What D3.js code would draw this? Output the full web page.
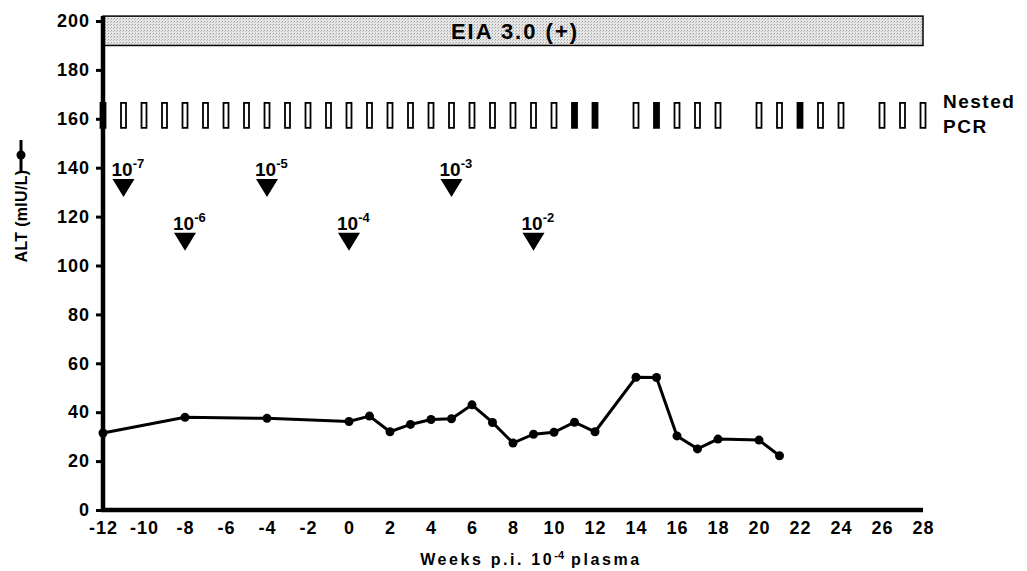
<!DOCTYPE html>
<html>
<head>
<meta charset="utf-8">
<script src="https://cdn.jsdelivr.net/npm/d3@7"></script>
<style>
	body{ margin:0; background:#fff; }
	svg text{ font-family:"Liberation Sans", Arial, sans-serif; font-weight:bold; fill:#000; }
</style>
</head>
<body>
<svg id="svg" width="1027" height="571"></svg>
<script>
// ALT values (mIU/L) by week p.i.
var weeks = [-12, -8, -4, 0, 1, 2, 3, 4, 5, 6, 7, 8, 9, 10, 11, 12, 14, 15, 16, 17, 18, 20, 21];
var alt = [31.5, 37.9, 37.5, 36.2, 38.4, 32, 35, 37, 37.3, 43, 35.8, 27.4, 31, 31.8, 35.9, 32, 54.3, 54.2, 30.3, 25, 29, 28.6, 22.2];

// inoculation arrows
var doseWeeks = [-11, -8, -4, 0, 5, 9];
var doseExp = ["-7", "-6", "-5", "-4", "-3", "-2"];
var doseLevel = [128, 106, 128, 106, 128, 106];

// nested PCR samples (1 = positive)
var pcrWeeks = [-12, -11, -10, -9, -8, -7, -6, -5, -4, -3, -2, -1, 0, 1, 2, 3, 4, 5, 6, 7, 8, 9, 10, 11, 12, 14, 15, 16, 17, 18, 20, 21, 22, 23, 24, 26, 27, 28];
var pcrResult = [0, 0, 0, 0, 0, 0, 0, 0, 0, 0, 0, 0, 0, 0, 0, 0, 0, 0, 0, 0, 0, 0, 0, 1, 1, 0, 1, 0, 0, 0, 0, 0, 1, 0, 0, 0, 0, 0];

// EIA 3.0 positive band
var eiaRange = [-12, 28];
var eiaLevel = [190, 202];

var xTicks = d3.range(-12, 29, 2);
var yTicks = d3.range(0, 201, 20);

var svg = d3.select("#svg");
var x = d3.scaleLinear().domain([-12, 28]).range([103, 923]);
var y = d3.scaleLinear().domain([0, 200]).range([510, 21]);

// stipple pattern for the EIA band
var pat = svg.append("defs").append("pattern").attr("id", "stip").attr("patternUnits", "userSpaceOnUse").attr("width", 3).attr("height", 3);
pat.append("rect").attr("width", 3).attr("height", 3).attr("fill", "#e6e6e6");
pat.append("rect").attr("x", 0).attr("y", 0).attr("width", 1).attr("height", 1).attr("fill", "#a0a0a0");
pat.append("rect").attr("x", 2).attr("y", 1).attr("width", 1).attr("height", 1).attr("fill", "#bdbdbd");

svg.append("rect")
	.attr("x", x(eiaRange[0])).attr("y", y(eiaLevel[1]))
	.attr("width", x(eiaRange[1]) - x(eiaRange[0]))
	.attr("height", y(eiaLevel[0]) - y(eiaLevel[1]))
	.attr("fill", "url(#stip)").attr("stroke", "#000").attr("stroke-width", 1.5);
svg.append("text")
	.attr("x", (x(eiaRange[0]) + x(eiaRange[1])) / 2 + 2).attr("y", y(eiaLevel[0]) - 6)
	.attr("text-anchor", "middle").style("font-size", "22px").style("letter-spacing", "2px")
	.text("EIA 3.0 (+)");

// PCR boxes
svg.append("g").selectAll("rect").data(pcrWeeks).enter().append("rect")
	.attr("x", function(d){ return x(d) - 2.5; })
	.attr("y", y(166.5))
	.attr("width", 5)
	.attr("height", y(156.3) - y(166.5))
	.attr("fill", function(d, i){ return pcrResult[i] ? "#000" : "#fff"; })
	.attr("stroke", "#000").attr("stroke-width", 1.8);

svg.append("text").attr("x", 943).attr("y", 108).style("font-size", "19px").style("letter-spacing", "1.5px").text("Nested");
svg.append("text").attr("x", 943).attr("y", 133).style("font-size", "19px").style("letter-spacing", "1.5px").text("PCR");

// dose arrows
var dose = svg.append("g").selectAll("g").data(doseWeeks).enter().append("g");
dose.append("path")
	.attr("d", function(d, i){
		var cx = x(d), tip = y(doseLevel[i]);
		return "M" + (cx - 11) + "," + (tip - 18) + "L" + (cx + 11) + "," + (tip - 18) + "L" + cx + "," + tip + "Z";
	})
	.attr("fill", "#000");
var lab = dose.append("text")
	.attr("x", function(d){ return x(d) - 12; })
	.attr("y", function(d, i){ return y(doseLevel[i]) - 21; })
	.style("font-size", "19px");
lab.append("tspan").text("10");
lab.append("tspan").attr("dy", -8).style("font-size", "13px").text(function(d, i){ return doseExp[i]; });

// axes
var fmt = function(d){ return String(d); };
var yAxis = svg.append("g").attr("transform", "translate(103,0)")
	.call(d3.axisLeft(y).tickValues(yTicks).tickFormat(fmt).tickSize(7).tickPadding(6));
yAxis.select(".domain").remove();
yAxis.selectAll(".tick line").attr("stroke-width", 3);
yAxis.selectAll("text").style("font-size", "18px").style("letter-spacing", "1px").attr("font-family", null);

var xAxis = svg.append("g").attr("transform", "translate(0,510)")
	.call(d3.axisBottom(x).tickValues(xTicks).tickFormat(fmt).tickSize(0).tickPadding(11));
xAxis.select(".domain").remove();
xAxis.selectAll("text").style("font-size", "18px").style("letter-spacing", "1px").attr("font-family", null);

svg.append("line").attr("x1", 103).attr("x2", 103).attr("y1", y(202)).attr("y2", 512).attr("stroke", "#000").attr("stroke-width", 4.5);
svg.append("line").attr("x1", 101).attr("x2", x(28)).attr("y1", 510).attr("y2", 510).attr("stroke", "#000").attr("stroke-width", 4.5);

// ALT series
var line = d3.line().x(function(d){ return x(d); }).y(function(d, i){ return y(alt[i]); });
svg.append("path").datum(weeks).attr("d", line).attr("fill", "none").attr("stroke", "#000").attr("stroke-width", 3);
svg.append("g").selectAll("circle").data(weeks).enter().append("circle")
	.attr("cx", function(d){ return x(d); })
	.attr("cy", function(d, i){ return y(alt[i]); })
	.attr("r", 4.5).attr("fill", "#000");

// axis titles
svg.append("text").attr("transform", "translate(27,216) rotate(-90)")
	.attr("text-anchor", "middle").style("font-size", "16px").style("letter-spacing", "0.3px")
	.text("ALT (mIU/L)");
svg.append("line").attr("x1", 21).attr("x2", 21).attr("y1", 140).attr("y2", 173).attr("stroke", "#000").attr("stroke-width", 3);
svg.append("circle").attr("cx", 21).attr("cy", 155).attr("r", 4.5).attr("fill", "#000");

var title = svg.append("text").attr("x", 531).attr("y", 565).attr("text-anchor", "middle")
	.style("font-size", "16px").style("letter-spacing", "2.6px");
title.append("tspan").text("Weeks p.i. 10");
title.append("tspan").attr("dy", -6).style("font-size", "11px").style("letter-spacing", "0px").text("-4");
title.append("tspan").attr("dy", 6).text(" plasma");
</script>
</body>
</html>
